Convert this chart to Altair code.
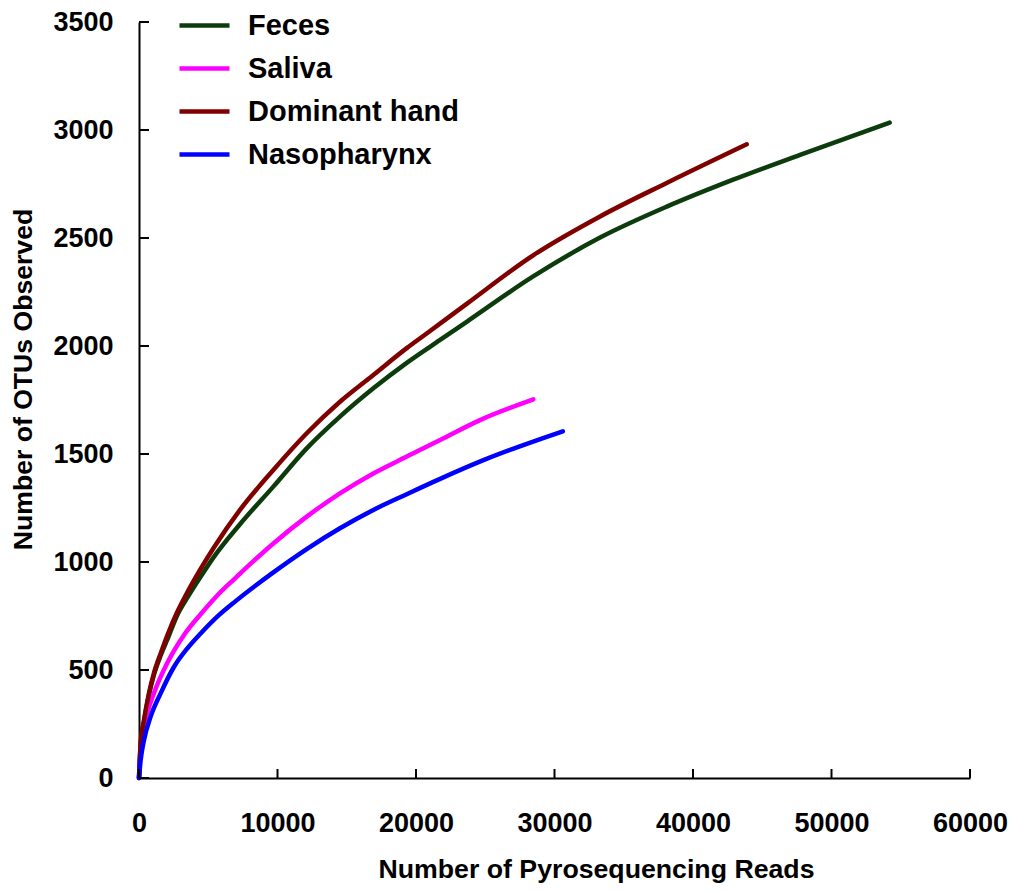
import altair as alt
import pandas as pd

# ---- data ----
feces_x = [0, 120, 360, 720, 1080, 1570, 2040, 2770, 3490, 4450, 5420, 7290, 9700, 12110,
           14510, 16920, 19330, 21740, 23660, 28460, 33290, 38100, 42900, 47730, 54200]
feces_y = [0, 150, 260, 385, 478, 568, 640, 755, 835, 932, 1025, 1175, 1349, 1526,
           1673, 1804, 1922, 2028, 2112, 2322, 2502, 2645, 2770, 2885, 3034]

saliva_x = [0, 120, 600, 1080, 2040, 3250, 4450, 5650, 6860, 9700, 12110, 14510,
            16920, 19330, 21740, 24620, 28470]
saliva_y = [0, 145, 300, 393, 532, 662, 758, 845, 920, 1086, 1210, 1318,
            1410, 1488, 1565, 1657, 1753]

hand_x = [0, 120, 360, 720, 1080, 1570, 2040, 2770, 3490, 4450, 5420, 7290, 9700,
          12110, 14510, 16920, 19330, 20770, 23660, 28460, 33290, 38100, 43880]
hand_y = [0, 162, 268, 393, 486, 578, 660, 770, 860, 968, 1068, 1241, 1426,
          1596, 1742, 1866, 1990, 2058, 2195, 2420, 2600, 2755, 2934]

naso_x = [0, 120, 360, 840, 1570, 2530, 3490, 4450, 5650, 7000, 9700, 12110, 14510,
          16920, 19330, 21740, 25000, 30600]
naso_y = [0, 83, 176, 284, 393, 515, 600, 669, 747, 820, 952, 1060, 1156,
          1241, 1314, 1385, 1475, 1605]

series_names = ["Feces", "Saliva", "Dominant hand", "Nasopharynx"]
series_colors = ["#0c3b0c", "#ff00ff", "#800000", "#0000ff"]

x_ticks = [0, 10000, 20000, 30000, 40000, 50000, 60000]
y_ticks = [0, 500, 1000, 1500, 2000, 2500, 3000, 3500]

rows = []
for name, xs, ys in [("Feces", feces_x, feces_y), ("Saliva", saliva_x, saliva_y),
                     ("Dominant hand", hand_x, hand_y), ("Nasopharynx", naso_x, naso_y)]:
    for i, (a, b) in enumerate(zip(xs, ys)):
        rows.append({"series": name, "reads": a, "otus": b, "i": i})
df = pd.DataFrame(rows)

W, H = 831, 756
FONT = "Liberation Sans"

xscale = alt.Scale(domain=[0, 60000], nice=False, zero=True)
yscale = alt.Scale(domain=[0, 3500], nice=False, zero=True)

x_axis = alt.Axis(values=x_ticks, format="d", ticks=False, grid=False, labelFlush=False,
                  domainColor="black", domainWidth=2,
                  labelFont=FONT, labelFontSize=27, labelFontWeight="bold",
                  labelColor="black", labelPadding=32,
                  title="Number of Pyrosequencing Reads",
                  titleFont=FONT, titleFontSize=26.7, titleFontWeight="bold",
                  titleColor="black", titleX=457, titleY=99,
                  titleAlign="center", titleBaseline="alphabetic")
y_axis = alt.Axis(values=y_ticks, format="d", ticks=False, grid=False, labelFlush=False,
                  domainColor="black", domainWidth=2,
                  labelFont=FONT, labelFontSize=27, labelFontWeight="bold",
                  labelColor="black", labelPadding=26,
                  title="Number of OTUs Observed",
                  titleFont=FONT, titleFontSize=26.6, titleFontWeight="bold",
                  titleColor="black", titleX=-108, titleY=357, titleAngle=270,
                  titleAlign="center", titleBaseline="alphabetic")

lines = alt.Chart(df).mark_line(strokeWidth=4.5, strokeCap="round", strokeJoin="round",
                                interpolate="monotone").encode(
    x=alt.X("reads:Q", scale=xscale, axis=x_axis),
    y=alt.Y("otus:Q", scale=yscale, axis=y_axis),
    color=alt.Color("series:N", scale=alt.Scale(domain=series_names, range=series_colors),
                    legend=alt.Legend(orient="none", legendX=38, legendY=-24, title=None,
                                      symbolType="stroke", symbolSize=2500,
                                      symbolStrokeWidth=4.5, labelFont=FONT,
                                      labelFontSize=29, labelFontWeight="bold",
                                      labelColor="black", labelOffset=16, rowPadding=0,
                                      labelLimit=0, padding=0)),
    order="i:Q",
)

xt = pd.DataFrame({"v": x_ticks})
yt = pd.DataFrame({"v": y_ticks})
xtick_layer = alt.Chart(xt).mark_rule(color="black", strokeWidth=2).encode(
    x=alt.X("v:Q", scale=xscale, axis=x_axis),
    y=alt.value(H), y2=alt.value(H - 9))
ytick_layer = alt.Chart(yt).mark_rule(color="black", strokeWidth=2).encode(
    y=alt.Y("v:Q", scale=yscale, axis=y_axis),
    x=alt.value(0), x2=alt.value(10))

chart = alt.layer(lines, xtick_layer, ytick_layer).properties(
    width=W, height=H,
    background="white",
    autosize=alt.AutoSizeParams(type="none"),
    padding={"left": 131, "top": 14, "right": 38, "bottom": 106},
).configure_view(strokeWidth=0, stroke="transparent")

chart.save("out.html", embed_options={"renderer": "svg", "actions": False})
